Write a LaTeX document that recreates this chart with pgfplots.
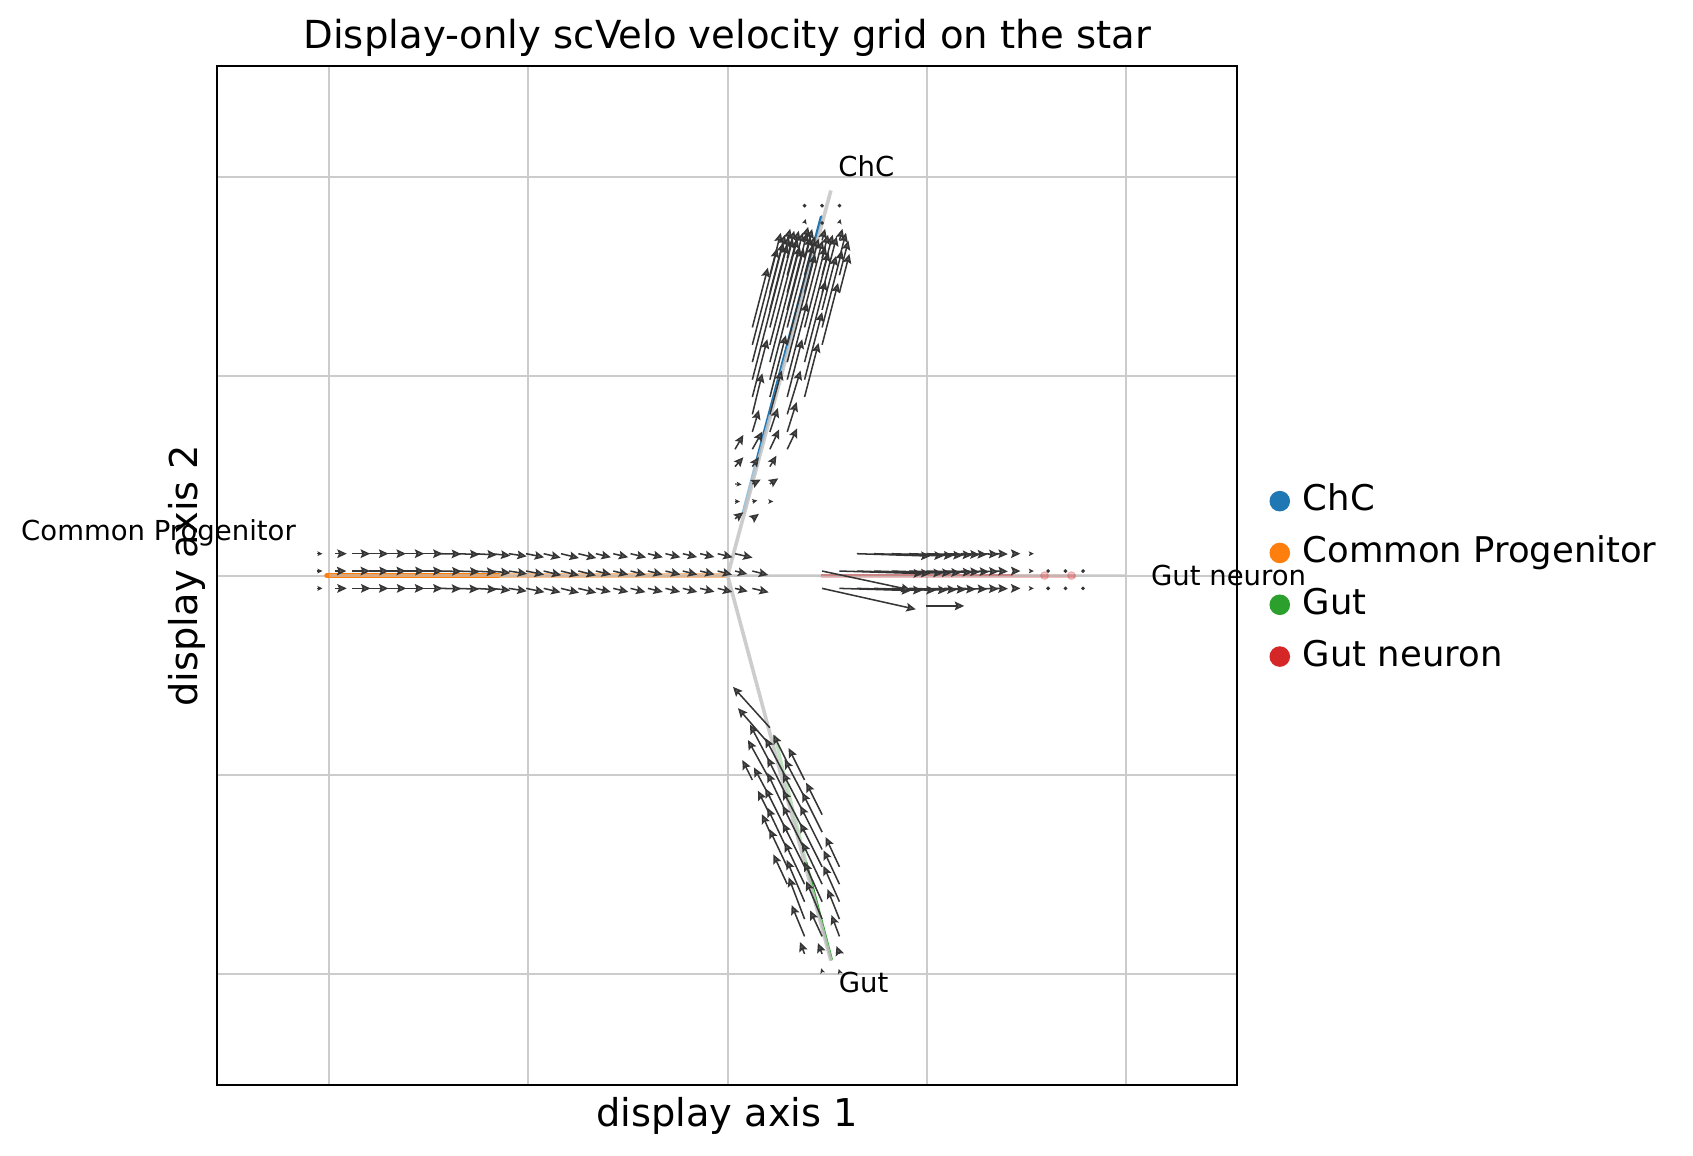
\documentclass[border=0pt]{standalone}
\usepackage{fontspec}
\setmainfont{DejaVu Sans}
\usepackage{pgfplots}
\pgfplotsset{compat=1.18}
\usepackage{pgfplotstable}
\usetikzlibrary{arrows.meta}
\definecolor{cchc}{HTML}{1F77B4}
\definecolor{ccp}{HTML}{FF7F0E}
\definecolor{cgut}{HTML}{2CA02C}
\definecolor{cgn}{HTML}{D62728}
\definecolor{gridc}{HTML}{CCCCCC}
\definecolor{bbc}{HTML}{C4C4C4}
\definecolor{arrowc}{HTML}{353535}
\definecolor{headc}{HTML}{5C5C5C}

% Common Progenitor arm arrows
\pgfplotstableread[row sep=\\]{
x y u v\\
-1.971 0.110 0.060 0\\
-1.884 0.110 0.090 0\\
-1.797 0.110 0.095 0\\
-1.709 0.110 0.095 0\\
-1.622 0.110 0.100 0\\
-1.535 0.110 0.105 0\\
-1.447 0.110 0.110 -0.002\\
-1.360 0.110 0.115 -0.004\\
-1.273 0.110 0.115 -0.006\\
-1.185 0.110 0.095 -0.010\\
-1.098 0.110 0.090 -0.013\\
-1.011 0.110 0.090 -0.018\\
-0.923 0.110 0.085 -0.020\\
-0.836 0.110 0.090 -0.022\\
-0.749 0.110 0.090 -0.022\\
-0.661 0.110 0.075 -0.018\\
-0.574 0.110 0.075 -0.018\\
-0.487 0.110 0.078 -0.019\\
-0.400 0.110 0.075 -0.018\\
-0.312 0.110 0.075 -0.018\\
-0.225 0.110 0.072 -0.017\\
-0.138 0.110 0.072 -0.017\\
-0.050 0.110 0.075 -0.018\\
0.037 0.110 0.088 -0.020\\
-1.971 0.023 0.058 0\\
-1.884 0.023 0.090 0\\
-1.797 0.023 0.097 0\\
-1.709 0.023 0.095 0\\
-1.622 0.023 0.102 0\\
-1.535 0.023 0.105 0\\
-1.447 0.023 0.112 -0.002\\
-1.360 0.023 0.115 -0.004\\
-1.273 0.023 0.112 -0.006\\
-1.185 0.023 0.095 -0.010\\
-1.098 0.023 0.092 -0.014\\
-1.011 0.023 0.090 -0.018\\
-0.923 0.023 0.088 -0.021\\
-0.836 0.023 0.090 -0.022\\
-0.749 0.023 0.088 -0.022\\
-0.661 0.023 0.076 -0.018\\
-0.574 0.023 0.075 -0.018\\
-0.487 0.023 0.076 -0.019\\
-0.400 0.023 0.074 -0.018\\
-0.312 0.023 0.075 -0.018\\
-0.225 0.023 0.073 -0.018\\
-0.138 0.023 0.072 -0.017\\
-0.050 0.023 0.072 -0.018\\
0.037 0.023 0.062 -0.015\\
0.124 0.023 0.080 -0.020\\
-1.971 -0.064 0.060 0\\
-1.884 -0.064 0.092 0\\
-1.797 -0.064 0.095 0\\
-1.709 -0.064 0.097 0\\
-1.622 -0.064 0.100 0\\
-1.535 -0.064 0.105 0\\
-1.447 -0.064 0.110 -0.002\\
-1.360 -0.064 0.112 -0.004\\
-1.273 -0.064 0.115 -0.006\\
-1.185 -0.064 0.095 -0.010\\
-1.098 -0.064 0.090 -0.014\\
-1.011 -0.064 0.092 -0.019\\
-0.923 -0.064 0.085 -0.020\\
-0.836 -0.064 0.090 -0.022\\
-0.749 -0.064 0.090 -0.022\\
-0.661 -0.064 0.075 -0.018\\
-0.574 -0.064 0.076 -0.018\\
-0.487 -0.064 0.075 -0.019\\
-0.400 -0.064 0.075 -0.018\\
-0.312 -0.064 0.074 -0.018\\
-0.225 -0.064 0.073 -0.018\\
-0.138 -0.064 0.072 -0.017\\
-0.050 -0.064 0.074 -0.018\\
0.037 -0.064 0.064 -0.015\\
0.124 -0.064 0.082 -0.020\\
}\cparrows

% Gut neuron arm arrows
\pgfplotstableread[row sep=\\]{
x y u v\\
0.648 0.110 0.370 -0.012\\
0.735 0.110 0.350 -0.011\\
0.823 0.110 0.310 -0.010\\
0.910 0.110 0.270 -0.009\\
0.997 0.110 0.230 -0.007\\
1.085 0.110 0.180 -0.005\\
1.172 0.110 0.130 -0.004\\
1.259 0.110 0.100 -0.003\\
1.346 0.110 0.060 -0.002\\
1.434 0.110 0.035 0\\
0.561 0.023 0.420 -0.013\\
0.648 0.023 0.370 -0.012\\
0.735 0.023 0.345 -0.011\\
0.823 0.023 0.300 -0.010\\
0.910 0.023 0.260 -0.009\\
0.997 0.023 0.230 -0.007\\
1.085 0.023 0.180 -0.005\\
1.172 0.023 0.140 -0.004\\
1.259 0.023 0.100 -0.003\\
1.346 0.023 0.060 -0.002\\
1.434 0.023 0.035 0\\
0.561 -0.064 0.360 -0.011\\
0.648 -0.064 0.330 -0.010\\
0.735 -0.064 0.310 -0.010\\
0.823 -0.064 0.280 -0.009\\
0.910 -0.064 0.240 -0.007\\
0.997 -0.064 0.200 -0.006\\
1.085 -0.064 0.160 -0.005\\
1.172 -0.064 0.130 -0.004\\
1.259 -0.064 0.100 -0.003\\
1.346 -0.064 0.060 -0.002\\
1.434 -0.064 0.035 0\\
0.474 0.023 0.445 -0.095\\
0.474 -0.064 0.470 -0.105\\
0.997 -0.152 0.190 0\\
}\gnarrows

% ChC arm arrows
\pgfplotstableread[row sep=\\]{
x y u v\\
0.037 0.285 0.042 0.033\\
0.124 0.285 0.033 0.025\\
0.124 0.460 0.042 0.022\\
0.212 0.460 0.042 0.028\\
0.037 0.547 0.042 0.047\\
0.124 0.547 0.033 0.047\\
0.212 0.547 0.033 0.055\\
0.037 0.634 0.042 0.072\\
0.124 0.634 0.050 0.089\\
0.212 0.634 0.047 0.100\\
0.299 0.634 0.050 0.105\\
0.124 0.721 0.033 0.110\\
0.212 0.721 0.040 0.120\\
0.299 0.721 0.047 0.150\\
0.124 0.809 0.050 0.206\\
0.212 0.809 0.059 0.220\\
0.299 0.809 0.067 0.220\\
0.124 0.896 0.075 0.290\\
0.212 0.896 0.080 0.310\\
0.299 0.896 0.075 0.290\\
0.386 0.896 0.070 0.271\\
0.124 0.983 0.175 0.678\\
0.212 0.983 0.170 0.658\\
0.299 0.983 0.100 0.387\\
0.386 0.983 0.088 0.339\\
0.124 1.071 0.155 0.600\\
0.212 1.071 0.150 0.581\\
0.299 1.071 0.140 0.542\\
0.386 1.071 0.105 0.407\\
0.124 1.158 0.125 0.484\\
0.212 1.158 0.138 0.532\\
0.299 1.158 0.130 0.503\\
0.386 1.158 0.120 0.465\\
0.474 1.158 0.080 0.310\\
0.124 1.245 0.078 0.300\\
0.212 1.245 0.115 0.445\\
0.299 1.245 0.118 0.455\\
0.386 1.245 0.105 0.407\\
0.474 1.245 0.100 0.387\\
0.212 1.333 0.095 0.368\\
0.299 1.333 0.100 0.387\\
0.386 1.333 0.090 0.348\\
0.474 1.333 0.070 0.271\\
0.212 1.420 0.075 0.290\\
0.299 1.420 0.078 0.300\\
0.386 1.420 0.070 0.271\\
0.474 1.420 0.073 0.281\\
0.561 1.420 0.050 0.194\\
0.212 1.507 0.055 0.213\\
0.299 1.507 0.058 0.223\\
0.386 1.507 0.050 0.194\\
0.474 1.507 0.053 0.203\\
0.561 1.507 0.045 0.174\\
0.299 1.594 0.035 0.136\\
0.386 1.594 0.038 0.145\\
0.474 1.594 0.030 0.116\\
0.561 1.594 0.033 0.126\\
0.299 1.682 0.015 0.058\\
0.386 1.682 0.018 0.068\\
0.474 1.682 0.015 0.058\\
0.561 1.682 0.015 0.058\\
}\chcarrows

% Gut arm arrows
\pgfplotstableread[row sep=\\]{
x y u v\\
0.212 -0.763 -0.185 0.205\\
0.212 -0.850 -0.160 0.185\\
0.212 -0.937 -0.100 0.190\\
0.299 -0.937 -0.070 0.140\\
0.124 -1.025 -0.050 0.100\\
0.212 -1.025 -0.110 0.200\\
0.299 -1.025 -0.110 0.210\\
0.386 -1.025 -0.080 0.160\\
0.212 -1.112 -0.080 0.150\\
0.299 -1.112 -0.100 0.200\\
0.386 -1.112 -0.100 0.190\\
0.212 -1.199 -0.060 0.120\\
0.299 -1.199 -0.100 0.210\\
0.386 -1.199 -0.110 0.210\\
0.474 -1.199 -0.080 0.160\\
0.212 -1.287 -0.040 0.090\\
0.299 -1.287 -0.110 0.220\\
0.386 -1.287 -0.110 0.210\\
0.474 -1.287 -0.100 0.200\\
0.299 -1.374 -0.100 0.210\\
0.386 -1.374 -0.110 0.220\\
0.474 -1.374 -0.110 0.220\\
0.299 -1.461 -0.090 0.190\\
0.386 -1.461 -0.110 0.220\\
0.474 -1.461 -0.110 0.220\\
0.561 -1.461 -0.070 0.150\\
0.299 -1.548 -0.070 0.150\\
0.386 -1.548 -0.100 0.210\\
0.474 -1.548 -0.100 0.210\\
0.561 -1.548 -0.080 0.170\\
0.386 -1.636 -0.090 0.210\\
0.474 -1.636 -0.090 0.200\\
0.561 -1.636 -0.080 0.180\\
0.386 -1.723 -0.080 0.210\\
0.474 -1.723 -0.080 0.190\\
0.561 -1.723 -0.060 0.150\\
0.386 -1.810 -0.065 0.157\\
0.474 -1.810 -0.060 0.130\\
0.561 -1.810 -0.040 0.107\\
0.386 -1.898 -0.023 0.060\\
0.474 -1.898 -0.021 0.055\\
0.561 -1.898 -0.015 0.040\\
}\gutarrows

% very short arrows (small heads)
\pgfplotstableread[row sep=\\]{
x y u v\\
-2.058 0.110 0.025 0\\
-2.058 0.023 0.025 0\\
-2.058 -0.064 0.025 0\\
1.521 0.110 0.015 0\\
1.521 0.023 0.015 0\\
1.521 -0.064 0.015 0\\
0.037 0.372 0.025 0\\
0.124 0.372 0.025 0.005\\
0.212 0.372 0.017 0\\
0.037 0.460 0.033 -0.003\\
0.386 1.769 0.006 0.020\\
0.561 1.769 0.005 0.020\\
0.474 -1.985 -0.005 0.015\\
0.561 -1.985 -0.004 0.012\\
}\tinyarrows

% zero-length grid vectors
\pgfplotstableread[row sep=\\]{
x y\\
1.608 0.023\\
1.695 0.023\\
1.783 0.023\\
1.608 -0.064\\
1.695 -0.064\\
1.783 -0.064\\
0.474 1.769\\
0.386 1.856\\
0.474 1.856\\
0.561 1.856\\
}\zeroarrows

\begin{document}
\begin{tikzpicture}
\begin{axis}[
  at={(0pt,0pt)}, anchor=south west,
  scale only axis, width=367.3pt, height=366.9pt,
  xmin=-2.562, xmax=2.557, ymin=-2.556, ymax=2.557,
  xtick={-2,-1,0,1,2}, ytick={-2,-1,0,1,2},
  xticklabels={}, yticklabels={},
  major tick length=0pt,
  grid=major, grid style={color=gridc, line width=0.75pt},
  axis line style={line width=0.75pt},
  clip=false,
  legend cell align=left,
  legend image code/.code={\draw[#1, only marks, mark=*, mark size=3.5pt] plot coordinates {(0pt,0pt)};},
  legend style={at={(axis description cs:1,0.5)}, anchor=west, xshift=11.8pt, yshift=-1.2pt,
    draw=none, fill=none, inner sep=0pt, outer sep=0pt,
    font=\fontsize{12.75}{15}\selectfont,
    row sep=7.05pt, column sep=4.8pt,
    nodes={inner sep=0pt, text height=9.3pt, text depth=2.3pt}},
]
\addlegendimage{cchc}
\addlegendentry{ChC}
\addlegendimage{ccp}
\addlegendentry{Common Progenitor}
\addlegendimage{cgut}
\addlegendentry{Gut}
\addlegendimage{cgn}
\addlegendentry{Gut neuron}

% cells along the arms
\addplot[forget plot, ccp, line width=1.7pt, line cap=round] coordinates {(-2.012,0) (-1.15,0)};
\addplot[forget plot, ccp, opacity=0.5, line width=1.6pt] coordinates {(-1.15,0) (-0.005,0)};
\addplot[forget plot, cchc, opacity=0.45, line width=1.2pt] coordinates {(0.077,0.31) (0.142,0.56)};
\addplot[forget plot, cchc, line width=1.1pt, line cap=round] coordinates {(0.142,0.56) (0.470,1.80)};
\addplot[forget plot, cgut, opacity=0.3, line width=1.1pt] coordinates {(0.235,-0.80) (0.394,-1.44)};
\addplot[forget plot, cgut, line width=1.0pt, line cap=round] coordinates {(0.394,-1.44) (0.521,-1.925)};
\addplot[forget plot, cgn, opacity=0.3, line width=1.5pt] coordinates {(0.47,0) (1.75,0)};
\addplot[forget plot, cgn, line width=0.7pt] coordinates {(0.47,0.002) (1.43,0.002)};
\addplot[forget plot, only marks, mark=*, mark size=1.4pt, cgn, opacity=0.25] coordinates {(1.59,0) (1.725,0)};

% backbone of the star
\addplot[forget plot, bbc, opacity=0.85, line width=1.3pt] coordinates {(0,0) (0.518,1.932)};
\addplot[forget plot, bbc, opacity=0.85, line width=1.3pt] coordinates {(0,0) (0.518,-1.932)};
\addplot[forget plot, bbc, opacity=0.6, line width=1.0pt] coordinates {(-2,0) (2,0)};

% velocity grid
\addplot[forget plot, draw=arrowc, line width=0.55pt,
  -{Stealth[length=3.4pt, width=3.1pt, inset=0.6pt, fill=headc]},
  quiver={u=\thisrow{u}, v=\thisrow{v}}] table[x=x, y=y] {\cparrows};
\addplot[forget plot, draw=arrowc, line width=0.55pt,
  -{Stealth[length=3.4pt, width=3.1pt, inset=0.6pt, fill=headc]},
  quiver={u=\thisrow{u}, v=\thisrow{v}}] table[x=x, y=y] {\gnarrows};
\addplot[forget plot, draw=arrowc, line width=0.55pt,
  -{Stealth[length=3.4pt, width=3.1pt, inset=0.6pt, fill=headc]},
  quiver={u=\thisrow{u}, v=\thisrow{v}}] table[x=x, y=y] {\chcarrows};
\addplot[forget plot, draw=arrowc, line width=0.55pt,
  -{Stealth[length=3.4pt, width=3.1pt, inset=0.6pt, fill=headc]},
  quiver={u=\thisrow{u}, v=\thisrow{v}}] table[x=x, y=y] {\gutarrows};
\addplot[forget plot, draw=arrowc, line width=0.4pt,
  -{Stealth[length=1.8pt, width=1.7pt, inset=0.4pt, fill=headc]},
  quiver={u=\thisrow{u}, v=\thisrow{v}}] table[x=x, y=y] {\tinyarrows};
\addplot[forget plot, only marks, mark=*, mark size=0.45pt, arrowc] table[x=x, y=y] {\zeroarrows};

% annotations
\node[anchor=base west, inner sep=0pt, font=\fontsize{9.9}{12}\selectfont] at (axis cs:0.553,2.0) {ChC};
\node[anchor=base west, inner sep=0pt, font=\fontsize{9.9}{12}\selectfont] at (axis cs:0.555,-2.093) {Gut};
\node[anchor=base west, inner sep=0pt, font=\fontsize{9.9}{12}\selectfont] at (axis cs:-3.547,0.175) {Common Progenitor};
\node[anchor=base west, inner sep=0pt, font=\fontsize{9.9}{12}\selectfont] at (axis cs:2.122,-0.048) {Gut neuron};

% title and axis labels
\node[font=\fontsize{13.9}{16}\selectfont, yshift=10.2pt] at (axis description cs:0.5,1) {Display-only scVelo velocity grid on the star};
\node[font=\fontsize{13.8}{16}\selectfont, yshift=-11pt] at (axis description cs:0.5,0) {display axis 1};
\node[font=\fontsize{13.8}{16}\selectfont, rotate=90] at ([xshift=-11pt]axis description cs:0,0.5) {display axis 2};
\end{axis}
\pgfresetboundingbox
\path[use as bounding box] (-78.12pt,-25.16pt) rectangle (531.36pt,390.64pt);
\end{tikzpicture}
\end{document}
